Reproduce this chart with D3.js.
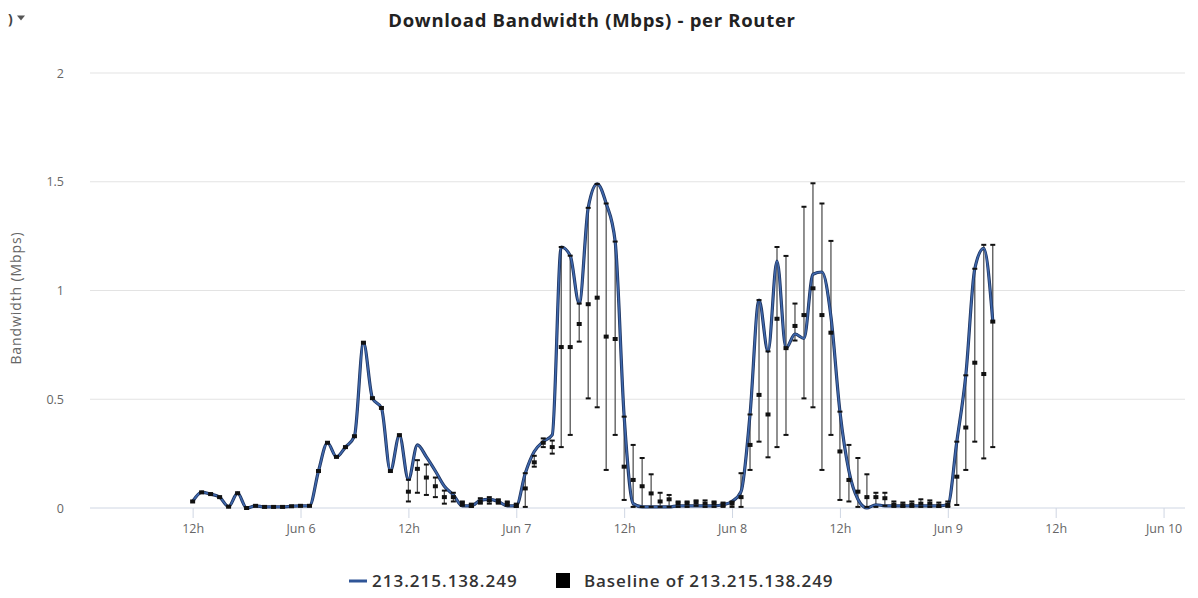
<!DOCTYPE html>
<html><head><meta charset="utf-8">
<script src="https://cdn.jsdelivr.net/npm/d3@7"></script>
<style>
html,body{margin:0;padding:0;background:#fff;}
svg{display:block;font-family:"Open Sans","Noto Sans",sans-serif;}
</style></head>
<body><svg id="c" width="1198" height="598"></svg>
<script>
// ---- data (hourly from Jun 5 12:00 UTC) ----
const startTime = Date.UTC(2024,5,5,12,0);
const seriesName = "213.215.138.249";
const baselineName = "Baseline of 213.215.138.249";
const values = [0.03,0.072,0.064,0.05,0.006,0.068,0.0,0.01,0.005,0.005,0.005,0.008,0.01,0.01,0.17,0.30,0.235,0.28,0.33,0.76,
0.505,0.46,0.17,0.335,0.13,0.29,0.235,0.17,0.10,0.06,0.01,0.01,0.035,0.04,0.03,0.01,0.01,0.16,0.26,0.305,
0.336,1.20,1.16,0.94,1.38,1.49,1.40,1.225,0.42,0.02,0.005,0.005,0.005,0.005,0.01,0.01,0.01,0.01,0.01,0.015,
0.03,0.075,0.43,0.956,0.72,1.135,0.735,0.80,0.78,1.075,1.085,0.88,0.443,0.17,0.04,0.0,0.015,0.01,0.01,0.01,
0.01,0.01,0.01,0.01,0.015,0.305,0.61,1.10,1.194,0.86];
const baselineMean = [0.03,0.072,0.064,0.05,0.006,0.068,0.0,0.01,0.005,0.005,0.005,0.008,0.01,0.01,0.17,0.30,0.235,0.28,0.33,0.76,
0.505,0.46,0.17,0.335,0.075,0.18,0.14,0.10,0.05,0.05,0.02,0.01,0.03,0.035,0.03,0.02,0.01,0.09,0.21,0.30,
0.28,0.74,0.74,0.846,0.937,0.967,0.788,0.777,0.19,0.129,0.10,0.067,0.03,0.04,0.02,0.02,0.025,0.02,0.02,0.015,
0.02,0.05,0.29,0.52,0.43,0.87,0.735,0.837,0.887,1.01,0.887,0.806,0.26,0.129,0.075,0.05,0.05,0.045,0.015,0.012,
0.015,0.02,0.02,0.01,0.015,0.144,0.37,0.668,0.616,0.857];
const baselineLow = [0.03,0.072,0.064,0.05,0.006,0.068,0.0,0.01,0.005,0.005,0.005,0.008,0.01,0.01,0.17,0.30,0.235,0.28,0.33,0.76,
0.505,0.46,0.17,0.335,0.03,0.07,0.06,0.05,0.02,0.03,0.01,0.005,0.02,0.02,0.02,0.01,0.005,0.005,0.19,0.28,
0.25,0.28,0.336,0.765,0.504,0.463,0.175,0.336,0.037,0.005,0.005,0.005,0.005,0.005,0.005,0.005,0.01,0.005,0.005,0.005,
0.005,0.005,0.175,0.305,0.233,0.28,0.336,0.77,0.504,0.463,0.175,0.336,0.037,0.03,0.005,0.005,0.005,0.01,0.005,0.005,
0.005,0.005,0.005,0.005,0.005,0.014,0.175,0.305,0.228,0.28];
const baselineHigh = [0.03,0.072,0.064,0.05,0.006,0.068,0.0,0.01,0.005,0.005,0.005,0.008,0.01,0.01,0.17,0.30,0.235,0.28,0.33,0.76,
0.505,0.46,0.17,0.335,0.13,0.22,0.20,0.14,0.08,0.07,0.03,0.02,0.045,0.05,0.04,0.03,0.02,0.16,0.24,0.32,
0.31,1.20,1.16,0.94,1.38,1.49,1.40,1.225,0.42,0.29,0.23,0.155,0.07,0.06,0.03,0.03,0.035,0.035,0.03,0.025,
0.03,0.16,0.43,0.956,0.72,1.20,1.159,0.94,1.385,1.493,1.40,1.228,0.443,0.29,0.23,0.155,0.07,0.07,0.03,0.025,
0.03,0.04,0.035,0.025,0.03,0.305,0.61,1.10,1.21,1.21];
const yTicks = [0,0.5,1,1.5,2];
const xTickTimes = [Date.UTC(2024,5,5,12),Date.UTC(2024,5,6),Date.UTC(2024,5,6,12),Date.UTC(2024,5,7),Date.UTC(2024,5,7,12),
Date.UTC(2024,5,8),Date.UTC(2024,5,8,12),Date.UTC(2024,5,9),Date.UTC(2024,5,9,12),Date.UTC(2024,5,10)];
const titleText = "Download Bandwidth (Mbps) - per Router";
const yTitle = "Bandwidth (Mbps)";

const data = values.map((v,i)=>({t:new Date(startTime+i*3600e3), v, m:baselineMean[i], lo:baselineLow[i], hi:baselineHigh[i]}));

const svg = d3.select("#c");
const pLeft=90, pRight=1185, pTop=73, pBottom=508;
const x = d3.scaleUtc().domain([new Date(Date.UTC(2024,5,5,0,35)), new Date(Date.UTC(2024,5,10,2,23))]).range([pLeft,pRight]);
const y = d3.scaleLinear().domain([0,2]).range([pBottom,pTop]);

// title
svg.append("text").attr("x",592).attr("y",27).attr("text-anchor","middle")
  .attr("font-size",18.5).attr("font-weight",700).attr("letter-spacing",0.7).attr("fill","#222").text(titleText);

// partial menu button top-left
svg.append("text").attr("x",8).attr("y",24).attr("font-size",14).attr("font-weight",700).attr("fill","#444").text(")");
svg.append("path").attr("d","M17,15.5 L25,15.5 L21,20.5 Z").attr("fill","#555");

// grid
svg.append("g").selectAll("line").data(yTicks.filter(d=>d>0)).join("line")
  .attr("x1",pLeft).attr("x2",pRight).attr("y1",d=>y(d)).attr("y2",d=>y(d))
  .attr("stroke","#e3e3e3").attr("stroke-width",1);
svg.append("line").attr("x1",pLeft).attr("x2",pRight).attr("y1",y(0)).attr("y2",y(0)).attr("stroke","#cfd6e3");

// y axis labels
const yAxis = d3.axisLeft(y).tickValues(yTicks).tickSize(0).tickPadding(0).tickFormat(d3.format("~g"));
const gy = svg.append("g").attr("transform",`translate(64,0)`).call(yAxis);
gy.select(".domain").remove();
gy.selectAll("text").attr("font-size",12.5).attr("fill","#666").attr("font-family","Open Sans, Noto Sans, sans-serif");

svg.append("text").attr("transform",`translate(21,298) rotate(-90)`).attr("text-anchor","middle")
  .attr("font-size",14).attr("letter-spacing",0.9).attr("fill","#666").text(yTitle);

// x axis
const fmt = d => d.getUTCHours()===12 ? "12h" : d3.utcFormat("%b %-d")(d);
const xAxis = d3.axisBottom(x).tickValues(xTickTimes.map(t=>new Date(t))).tickSize(10).tickPadding(6).tickFormat(fmt);
const gx = svg.append("g").attr("transform",`translate(0,${pBottom})`).call(xAxis);
gx.select(".domain").remove();
gx.selectAll("line").attr("stroke","#cfd6e3");
gx.selectAll("text").attr("font-size",12.5).attr("fill","#666").attr("font-family","Open Sans, Noto Sans, sans-serif");

// baseline error bars
const eb = svg.append("g");
const withRange = data.filter(d=>d.hi>d.lo);
eb.selectAll("line.bar").data(withRange).join("line").attr("class","bar")
  .attr("x1",d=>x(d.t)).attr("x2",d=>x(d.t)).attr("y1",d=>y(d.lo)).attr("y2",d=>y(d.hi))
  .attr("stroke","#555").attr("stroke-width",1.3);

// series line
const line = d3.line().x(d=>x(d.t)).y(d=>y(d.v)).curve(d3.curveMonotoneX);
svg.append("path").datum(data).attr("d",line).attr("fill","none").attr("stroke","#1f3560").attr("stroke-width",3.2).attr("stroke-linejoin","round");
svg.append("path").datum(data).attr("d",line).attr("fill","none").attr("stroke","#3f68ad").attr("stroke-width",1.6).attr("stroke-linejoin","round");

// caps and mean markers
const caps = svg.append("g");
caps.selectAll("line.hi").data(withRange).join("line").attr("class","hi")
  .attr("x1",d=>x(d.t)-2.5).attr("x2",d=>x(d.t)+2.5).attr("y1",d=>y(d.hi)).attr("y2",d=>y(d.hi))
  .attr("stroke","#111").attr("stroke-width",2);
caps.selectAll("line.lo").data(withRange).join("line").attr("class","lo")
  .attr("x1",d=>x(d.t)-2.5).attr("x2",d=>x(d.t)+2.5).attr("y1",d=>y(d.lo)).attr("y2",d=>y(d.lo))
  .attr("stroke","#111").attr("stroke-width",2);
caps.selectAll("rect.m").data(data).join("rect").attr("class","m")
  .attr("x",d=>x(d.t)-2.5).attr("y",d=>y(d.m)-2).attr("width",5).attr("height",4).attr("fill","#111");

// legend
const lg = svg.append("g");
lg.append("line").attr("x1",349).attr("x2",367).attr("y1",581).attr("y2",581).attr("stroke","#2f5597").attr("stroke-width",3);
lg.append("text").attr("x",372).attr("y",587).attr("font-size",17).attr("font-weight",600).attr("letter-spacing",1.0).attr("fill","#333").text(seriesName);
lg.append("rect").attr("x",556).attr("y",573).attr("width",14).attr("height",15).attr("fill","#000");
lg.append("text").attr("x",584).attr("y",587).attr("font-size",17).attr("font-weight",600).attr("letter-spacing",0.9).attr("fill","#333").text(baselineName);
</script></body></html>
